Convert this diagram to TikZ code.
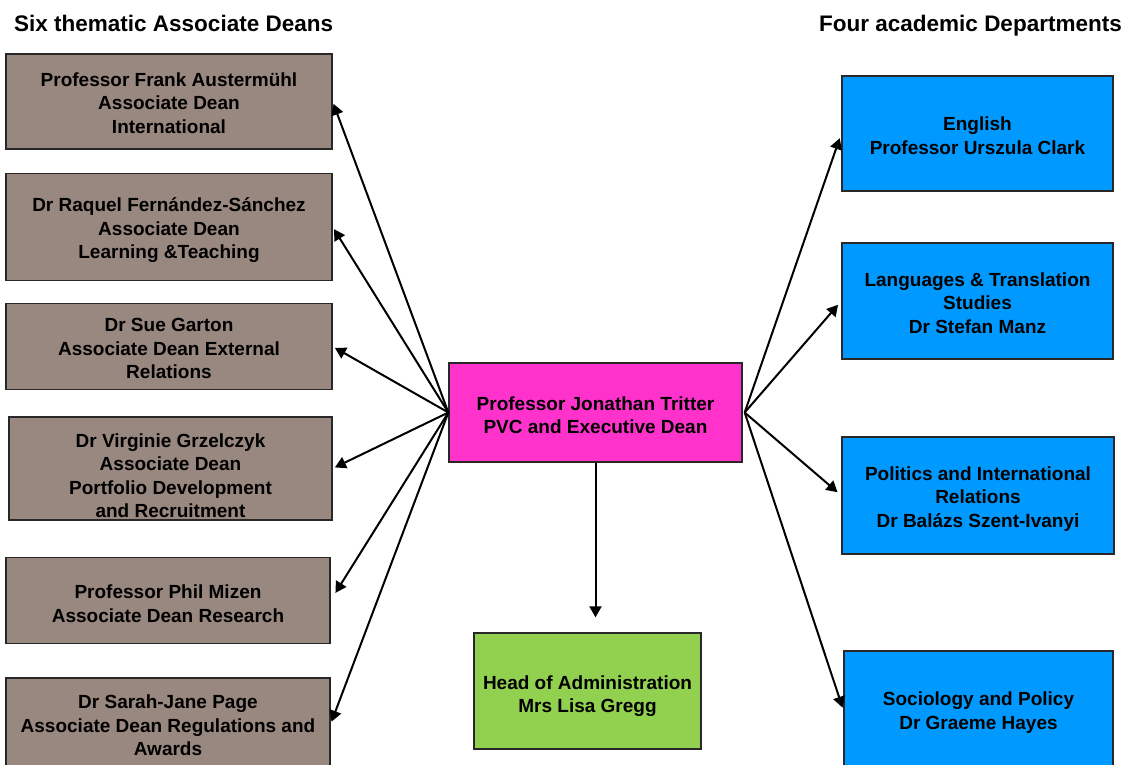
\documentclass[tikz,border=0pt]{standalone}
\usepackage{fontspec}
\setmainfont{Liberation Sans}
\usetikzlibrary{arrows.meta}
\definecolor{deanbrown}{RGB}{153,136,128}
\definecolor{pvcmag}{RGB}{255,51,204}
\definecolor{deptblue}{RGB}{0,153,255}
\definecolor{admgreen}{RGB}{146,208,80}
\definecolor{edge}{RGB}{40,40,40}
\tikzset{
  box/.style={draw=edge, line width=1.3pt, inner sep=0pt},
  txt/.style={align=center, inner sep=0pt, text=black,
    font=\fontsize{19}{23.5}\selectfont\bfseries},
  hdr/.style={font=\fontsize{22.5}{27}\selectfont\bfseries, inner sep=0pt, text=black},
  conn/.style={line width=2pt, -{Triangle[length=11pt,width=12pt]}, shorten >=2.5pt}
}
\begin{document}
\begin{tikzpicture}[x=1pt,y=-1pt]
\useasboundingbox (0,0) rectangle (1137,765);
\clip (0,0) rectangle (1137,765);
% headers
\node[hdr, anchor=base west] (hl) at (14,32) {Six thematic Associate Deans};
\node[hdr, anchor=base east] (hr) at (1122,32) {Four academic Departments};
% left boxes
\node[box, fill=deanbrown, minimum width=326pt, minimum height=95pt] (l1) at (169,101.5) {};
\node[txt] (t1) at ([yshift=-1.5pt]l1.center) {Professor Frank Austermühl\\Associate Dean\\International};
\node[box, fill=deanbrown, minimum width=326pt, minimum height=107pt] (l2) at (169,227) {};
\node[txt] (t2) at ([yshift=-3.5pt]l2.center) {Dr Raquel Fernández-Sánchez\\Associate Dean\\Learning \&Teaching};
\node[box, fill=deanbrown, minimum width=326pt, minimum height=86pt] (l3) at (169,346.5) {};
\node[txt] (t3) at ([yshift=-2pt]l3.center) {Dr Sue Garton\\Associate Dean External\\Relations};
\node[box, fill=deanbrown, minimum width=323pt, minimum height=103pt] (l4) at (170.5,468.5) {};
\node[txt] (t4) at ([yshift=-7pt]l4.center) {Dr Virginie Grzelczyk\\Associate Dean\\Portfolio Development\\and Recruitment};
\node[box, fill=deanbrown, minimum width=324pt, minimum height=86pt] (l5) at (168,600.5) {};
\node[txt] (t5) at ([yshift=-3pt]l5.center) {Professor Phil Mizen\\Associate Dean Research};
\node[box, fill=deanbrown, minimum width=324pt, minimum height=92pt] (l6) at (168,724) {};
\node[txt] (t6) at ([yshift=-1.5pt]l6.center) {Dr Sarah-Jane Page\\Associate Dean Regulations and\\Awards};
% centre
\node[box, fill=pvcmag, minimum width=293pt, minimum height=99pt] (pvc) at (595.5,412.5) {};
\node[txt] (tp) at ([yshift=-2.5pt]pvc.center) {Professor Jonathan Tritter\\PVC and Executive Dean};
\node[box, fill=admgreen, minimum width=227pt, minimum height=116pt] (adm) at (587.5,691) {};
\node[txt] (ta) at ([yshift=-5pt]adm.center) {Head of Administration\\Mrs Lisa Gregg};
% right boxes
\node[box, fill=deptblue, minimum width=271pt, minimum height=115pt] (r1) at (977.5,133.5) {};
\node[txt] (u1) at ([yshift=-2pt]r1.center) {English\\Professor Urszula Clark};
\node[box, fill=deptblue, minimum width=271pt, minimum height=116pt] (r2) at (977.5,301) {};
\node[txt] (u2) at ([yshift=-2pt]r2.center) {Languages \& Translation\\Studies\\Dr Stefan Manz};
\node[box, fill=deptblue, minimum width=272pt, minimum height=117pt] (r3) at (978,495.5) {};
\node[txt] (u3) at ([yshift=-3.5pt]r3.center) {Politics and International\\Relations\\Dr Balázs Szent-Ivanyi};
\node[box, fill=deptblue, minimum width=269pt, minimum height=118pt] (r4) at (978.5,710) {};
\node[txt] (u4) at ([yshift=-2.5pt]r4.center) {Sociology and Policy\\Dr Graeme Hayes};
% connectors
\foreach \t in {l1,l2,l3,l4,l6}
  \draw[conn] (pvc.west) -- (\t.east);
\draw[conn, shorten >=9pt] (pvc.west) -- (l5.east);
\foreach \t in {r1,r2,r3}
  \draw[conn, shorten >=5pt] ([xshift=2pt]pvc.east) -- (\t.west);
\draw[conn] ([xshift=2pt]pvc.east) -- (r4.west);
\draw[conn, shorten >=15pt] (pvc.south) -- (pvc.south |- adm.north);
\end{tikzpicture}
\end{document}
